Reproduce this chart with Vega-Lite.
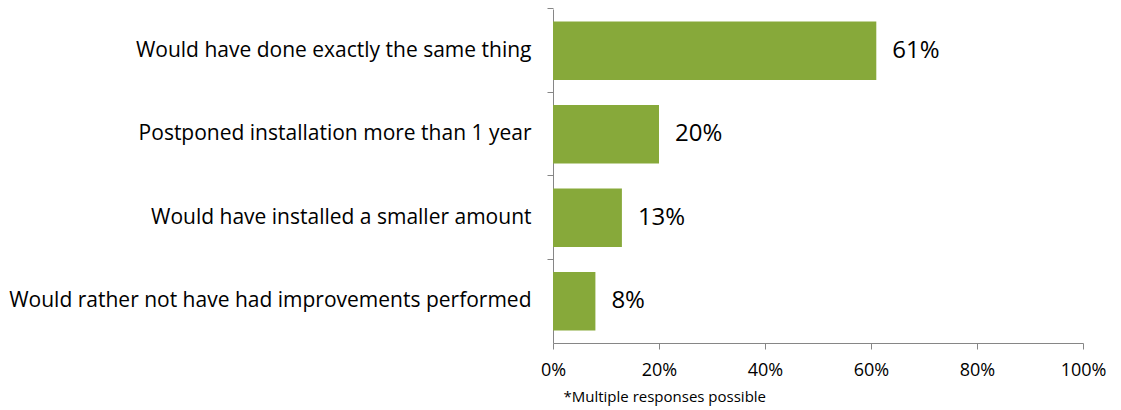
{
  "$schema": "https://vega.github.io/schema/vega-lite/v6.json",
  "autosize": "none",
  "padding": {"left": 553, "top": 9, "right": 38, "bottom": 67},
  "width": 530,
  "height": 334,
  "background": "white",
  "config": {"view": {"stroke": null}, "font": "Open Sans"},
  "data": {"values": [
    {"response": "Would have done exactly the same thing", "value": 0.61},
    {"response": "Postponed installation more than 1 year", "value": 0.20},
    {"response": "Would have installed a smaller amount", "value": 0.13},
    {"response": "Would rather not have had improvements performed", "value": 0.08}
  ]},
  "encoding": {
    "y": {"field": "response", "type": "nominal", "sort": null,
      "scale": {"paddingInner": 0.3, "paddingOuter": 0.15},
      "axis": {"title": null, "domainColor": "#868686", "tickColor": "#868686", "tickSize": 6, "bandPosition": -0.219,
        "labelFont": "Open Sans", "labelFontSize": 21, "labelColor": "#000000", "labelPadding": 16, "labelLimit": 600}},
    "x": {"field": "value", "type": "quantitative",
      "scale": {"domain": [0, 1]},
      "axis": {"values": [0, 0.2, 0.4, 0.6, 0.8, 1], "format": ".0%", "grid": false, "labelFlush": false,
        "domainColor": "#868686", "tickColor": "#868686", "tickSize": 6,
        "labelFont": "Open Sans", "labelFontSize": 18, "labelColor": "#000000", "labelPadding": 12,
        "title": "*Multiple responses possible", "titleFont": "Open Sans", "titleFontSize": 15, "titleFontWeight": "normal",
        "titleColor": "#000000", "titleAnchor": "start", "titleAlign": "left", "titleX": 10, "titleY": 58, "titleBaseline": "alphabetic"}}
  },
  "layer": [
    {"mark": {"type": "bar", "color": "#87A93A"}},
    {"mark": {"type": "text", "align": "left", "baseline": "middle", "dx": 16, "fontSize": 24, "font": "Open Sans", "color": "#000000"},
     "encoding": {"text": {"field": "value", "type": "quantitative", "format": ".0%"}, "x": {"field": "value", "type": "quantitative"}}}
  ]
}
